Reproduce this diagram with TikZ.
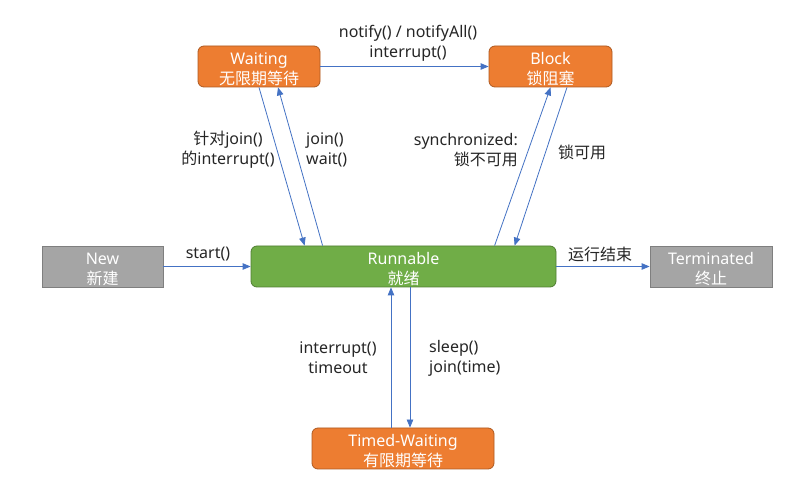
\documentclass[tikz,border=0pt]{standalone}
\usepackage{fontspec}
\setmainfont{Noto Sans}
\newfontfamily\zhfont{Noto Sans CJK SC}
\newcommand{\zh}[1]{{\zhfont #1}}
\newcommand{\toplift}{\rule{0pt}{17pt}}
\usetikzlibrary{arrows.meta,calc}
\definecolor{orangeF}{HTML}{ED7D31}
\definecolor{orangeD}{HTML}{AE5A21}
\definecolor{greenF}{HTML}{70AD47}
\definecolor{greenD}{HTML}{507E32}
\definecolor{grayF}{HTML}{A5A5A5}
\definecolor{grayD}{HTML}{7F7F7F}
\definecolor{blueA}{HTML}{4472C4}
\definecolor{labelC}{HTML}{262626}
\tikzset{
  state/.style={minimum height=41pt, inner sep=0pt, align=center, text=white, line width=0.8pt},
  orangebox/.style={state, fill=orangeF, draw=orangeD, rounded corners=6pt},
  greenbox/.style={state, fill=greenF, draw=greenD, rounded corners=6pt},
  graybox/.style={state, fill=grayF, draw=grayD},
  arr/.style={draw=blueA, line width=0.8pt, -{Triangle[length=8pt,width=6.5pt]}},
  lbl/.style={text=labelC, inner sep=0pt},
}
\begin{document}
\begin{tikzpicture}[x=1pt,y=-1pt,font=\fontsize{16}{20}\selectfont]
\useasboundingbox[fill=white] (0,0) rectangle (809,502);
% states
\node[orangebox, minimum width=122pt] (wait) at (259,66.5) {\toplift Waiting\\\zh{无限期等待}};
\node[orangebox, minimum width=123pt] (block) at (550.5,66.5) {\toplift Block\\\zh{锁阻塞}};
\node[graybox, minimum width=121pt] (new) at (102.5,266.5) {\toplift New\\\zh{新建}};
\node[greenbox, minimum width=305pt] (run) at (403.5,266.5) {\toplift Runnable\\\zh{就绪}};
\node[graybox, minimum width=122pt] (term) at (711,266.5) {\toplift Terminated\\\zh{终止}};
\node[orangebox, minimum width=182pt] (timed) at (403,448.5) {\toplift Timed-Waiting\\\zh{有限期等待}};
% connectors
\draw[arr] (wait.east) -- (block.west);
\draw[arr] (new.east) -- (run.west);
\draw[arr] (run.east) -- (term.west);
\draw[arr] (wait.south) -- ([xshift=54pt]run.north west);
\draw[arr] ([xshift=72pt]run.north west) -- ([xshift=19pt]wait.south);
\draw[arr] ([xshift=244pt]run.north west) -- (block.south);
\draw[arr] ([xshift=16.5pt]block.south) -- ([xshift=264pt]run.north west);
\draw[arr] ([xshift=-12pt]timed.north) -- ([xshift=-12.5pt]run.south);
\draw[arr] ([xshift=6.5pt]run.south) -- ([xshift=7pt]timed.north);
% labels
\node[lbl, align=center] (l1) at (408,43) {notify() / notifyAll()\\interrupt()};
\node[lbl] (l2) at (208,254) {start()};
\node[lbl] (l3) at (600,254) {\zh{运行结束}};
\node[lbl, align=center] (l4) at (228,150) {\zh{针对}join()\\\zh{的}interrupt()};
\node[lbl, align=left, anchor=west] (l5) at (306,150) {join()\\wait()};
\node[lbl, align=right, anchor=east] (l6) at (518,150) {synchronized:\\\zh{锁不可用}};
\node[lbl] (l7) at (582,152) {\zh{锁可用}};
\node[lbl, align=center] (l8) at (338,358) {interrupt()\\timeout};
\node[lbl, align=left, anchor=west] (l9) at (429,358) {sleep()\\join(time)};
\end{tikzpicture}
\end{document}
